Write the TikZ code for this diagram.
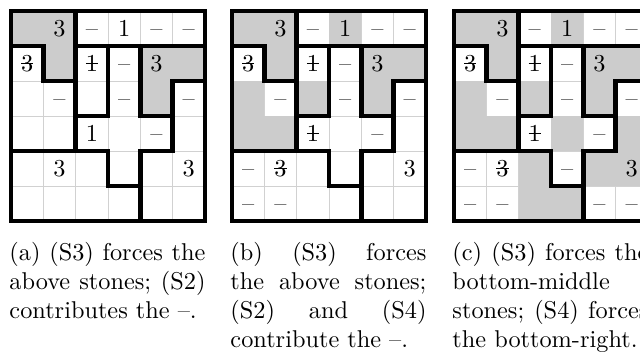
\documentclass[tikz,border=0pt]{standalone}
\newcommand{\dsh}{--}
\newcommand{\strk}[1]{\setbox0\hbox{#1}\rlap{#1}\rule[0.3em]{\wd0}{0.5pt}}
\tikzset{
  cellgray/.style={fill=black!20},
  thinline/.style={draw=black!18, line width=0.4pt},
  regionline/.style={draw=black, line width=1.85pt, line cap=rect, line join=miter},
  cell/.style={inner sep=0pt, anchor=base, yshift=-3.2pt},
  captext/.style={anchor=north west, inner sep=0pt, text width=80.65pt, align=justify,
    execute at begin node={\tolerance=10000\hyphenpenalty=10000\exhyphenpenalty=10000}}
}
\newcommand{\puzzle}[4]{%
\begin{scope}[shift={(#1pt,-4.527pt)}, x=13.304pt, y=-14.4025pt]
  \foreach \i in {1,...,5} {
    \draw[thinline] (\i,0) -- (\i,6);
    \draw[thinline] (0,\i) -- (6,\i);
  }
  \foreach \c/\r in {#2} \fill[cellgray] (\c,\r) rectangle ++(1,1);
  \foreach \c/\r/\t in {#3} \node[cell] (g#4-\c-\r) at (\c+0.5,\r+0.5) {\t};
  \draw[regionline] (0,0) rectangle (6,6);
  \draw[regionline] (2,0) -- (2,4);
  \draw[regionline] (0,1) -- (1,1) -- (1,2) -- (2,2);
  \draw[regionline] (2,1) -- (6,1);
  \draw[regionline] (3,1) -- (3,3) -- (2,3);
  \draw[regionline] (4,1) -- (4,3) -- (5,3);
  \draw[regionline] (6,2) -- (5,2) -- (5,4) -- (4,4) -- (4,6);
  \draw[regionline] (0,4) -- (3,4) -- (3,5) -- (4,5);
\end{scope}}
\begin{document}
\begin{tikzpicture}
\useasboundingbox (0,0) rectangle (263.36pt,-144.85pt);
\clip (0,0) rectangle (263.36pt,-144.85pt);
\fill[white] (0,0) rectangle (263.36pt,-144.85pt);
\puzzle{4.527}{0/0,1/0,1/1,4/1,5/1,4/2}{1/0/3,2/0/\dsh,3/0/1,4/0/\dsh,5/0/\dsh,
  0/1/\strk{3},2/1/\strk{1},3/1/\dsh,4/1/3,
  1/2/\dsh,3/2/\dsh,5/2/\dsh,
  2/3/1,4/3/\dsh,
  1/4/3,5/4/3}{a}
\puzzle{95.47}{0/0,1/0,3/0,1/1,4/1,5/1,0/2,2/2,4/2,0/3,1/3}{1/0/3,2/0/\dsh,3/0/1,4/0/\dsh,5/0/\dsh,
  0/1/\strk{3},2/1/\strk{1},3/1/\dsh,4/1/3,
  1/2/\dsh,3/2/\dsh,5/2/\dsh,
  2/3/\strk{1},4/3/\dsh,
  0/4/\dsh,1/4/\strk{3},5/4/3,
  0/5/\dsh,1/5/\dsh}{b}
\puzzle{186.82}{0/0,1/0,3/0,1/1,4/1,5/1,0/2,2/2,4/2,0/3,1/3,3/3,5/3,2/4,4/4,5/4,2/5,3/5}{1/0/3,2/0/\dsh,3/0/1,4/0/\dsh,5/0/\dsh,
  0/1/\strk{3},2/1/\strk{1},3/1/\dsh,4/1/3,
  1/2/\dsh,3/2/\dsh,5/2/\dsh,
  2/3/\strk{1},4/3/\dsh,
  0/4/\dsh,1/4/\strk{3},3/4/\dsh,5/4/3,
  0/5/\dsh,1/5/\dsh,4/5/\dsh,5/5/\dsh}{c}
\node[captext] (capa) at (3.70pt,-99.5pt) {(a) (S3) forces the\linebreak above stones; (S2)\linebreak contributes the \dsh.};
\node[captext] (capb) at (94.65pt,-99.5pt) {(b) (S3) forces\linebreak the above stones;\linebreak (S2) and (S4)\linebreak contribute the \dsh.};
\node[captext] (capc) at (186.0pt,-99.5pt) {(c) (S3) forces the\linebreak bottom-middle\linebreak stones; (S4) forces\linebreak the bottom-right.};
\end{tikzpicture}
\end{document}
